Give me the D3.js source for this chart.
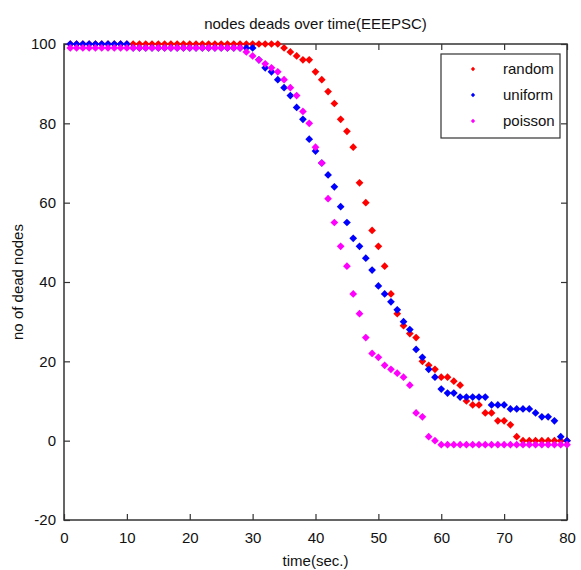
<!DOCTYPE html>
<html>
<head>
<meta charset="utf-8">
<script src="https://cdn.jsdelivr.net/npm/d3@7/dist/d3.min.js"></script>
<style>
  body { margin: 0; background: #fff; }
  svg { display: block; font-family: "Liberation Sans", Arial, sans-serif; }
</style>
</head>
<body>
<svg id="chart" width="581" height="570"></svg>
<script>
// time steps 1..80
const times = d3.range(1, 81);

// dead node counts
const randomVals = [
  100,100,100,100,100,100,100,100,100,100,
  100,100,100,100,100,100,100,100,100,100,
  100,100,100,100,100,100,100,100,100,100,
  100,100,100,100, 99, 98, 97, 96, 96, 93,
   91, 88, 85, 81, 78, 74, 65, 60, 53, 49,
   44, 37, 32, 29, 27, 26, 20, 19, 18, 16,
   16, 15, 14, 10,  9,  9,  7,  7,  5,  5,
    4,  1,  0,  0,  0,  0,  0,  0,  0,  0
];
const uniformVals = [
  100,100,100,100,100,100,100,100,100,100,
   99, 99, 99, 99, 99, 99, 99, 99, 99, 99,
   99, 99, 99, 99, 99, 99, 99, 99, 99, 99,
   96, 94, 93, 91, 89, 87, 84, 81, 76, 73,
   70, 67, 64, 59, 55, 51, 49, 46, 43, 39,
   37, 35, 33, 30, 28, 23, 21, 18, 16, 13,
   12, 12, 11, 11, 11, 11, 11,  9,  9,  9,
    8,  8,  8,  8,  7,  6,  6,  5,  1,  0
];
const poissonVals = [
   99, 99, 99, 99, 99, 99, 99, 99, 99, 99,
   99, 99, 99, 99, 99, 99, 99, 99, 99, 99,
   99, 99, 99, 99, 99, 99, 99, 99, 98, 97,
   96, 95, 94, 93, 91, 89, 87, 83, 80, 74,
   70, 61, 55, 49, 44, 37, 32, 26, 22, 21,
   19, 18, 17, 16, 14,  7,  6,  1,  0, -1,
   -1, -1, -1, -1, -1, -1, -1, -1, -1, -1,
   -1, -1, -1, -1, -1, -1, -1, -1, -1, -1
];

const seriesNames = ['random', 'uniform', 'poisson'];
const seriesColors = ['#ff0000', '#0000ff', '#ff00ff'];
const seriesValues = [randomVals, uniformVals, poissonVals];

const xTicks = [0, 10, 20, 30, 40, 50, 60, 70, 80];
const yTicks = [-20, 0, 20, 40, 60, 80, 100];

const svg = d3.select('#chart');
const margin = {top: 44, right: 14, bottom: 50, left: 64};
const width = 581 - margin.left - margin.right;
const height = 570 - margin.top - margin.bottom;

const g = svg.append('g')
    .attr('transform', `translate(${margin.left},${margin.top})`);

const xScale = d3.scaleLinear().domain([0, 80]).range([0, width]);
const yScale = d3.scaleLinear().domain([-20, 100]).range([height, 0]);

// plain hyphen minus like the original labels
const plain = d => String(d);

// axes with inward ticks, matlab style
const axisStyle = sel => {
    sel.selectAll('.domain').remove();
    sel.selectAll('line').attr('stroke', '#333').attr('stroke-width', 1.2);
    sel.selectAll('text').attr('font-size', 15).attr('fill', '#111');
};

g.append('g')
    .attr('transform', `translate(0,${height})`)
    .call(d3.axisBottom(xScale).tickValues(xTicks).tickFormat(plain).tickSizeInner(-6).tickSizeOuter(0).tickPadding(12))
    .call(axisStyle);
g.append('g')
    .call(d3.axisTop(xScale).tickValues(xTicks).tickSizeInner(-6).tickSizeOuter(0).tickFormat(''))
    .call(axisStyle);
g.append('g')
    .call(d3.axisLeft(yScale).tickValues(yTicks).tickFormat(plain).tickSizeInner(-6).tickSizeOuter(0).tickPadding(8))
    .call(axisStyle);
g.append('g')
    .attr('transform', `translate(${width},0)`)
    .call(d3.axisRight(yScale).tickValues(yTicks).tickSizeInner(-6).tickSizeOuter(0).tickFormat(''))
    .call(axisStyle);

// frame
g.append('rect')
    .attr('width', width).attr('height', height)
    .attr('fill', 'none').attr('stroke', '#333').attr('stroke-width', 1.5);

// points, drawn in series order
const marker = d3.symbol().type(d3.symbolDiamond2).size(38);
seriesValues.forEach((vals, i) => {
    g.append('g').selectAll('path')
        .data(times.map((t, j) => ({t, v: vals[j]})))
        .join('path')
        .attr('d', marker)
        .attr('transform', d => `translate(${xScale(d.t)},${yScale(d.v)})`)
        .attr('fill', seriesColors[i]);
});

// legend
const legend = g.append('g').attr('transform', `translate(${441 - margin.left},${54 - margin.top})`);
legend.append('rect')
    .attr('width', 119).attr('height', 84)
    .attr('fill', '#fff').attr('stroke', '#333').attr('stroke-width', 1.2);
const legendMarker = d3.symbol().type(d3.symbolDiamond2).size(12);
seriesNames.forEach((name, i) => {
    const y = 15 + i * 26;
    legend.append('path')
        .attr('d', legendMarker)
        .attr('transform', `translate(32,${y})`)
        .attr('fill', seriesColors[i]);
    legend.append('text')
        .attr('x', 62).attr('y', y + 5)
        .attr('font-size', 15).attr('fill', '#111')
        .text(name);
});

// title and axis labels
svg.append('text')
    .attr('x', margin.left + width / 2).attr('y', 29)
    .attr('text-anchor', 'middle').attr('font-size', 15).attr('fill', '#111')
    .text('nodes deads over time(EEEPSC)');

svg.append('text')
    .attr('x', margin.left + width / 2).attr('y', 566)
    .attr('text-anchor', 'middle').attr('font-size', 15).attr('fill', '#111')
    .text('time(sec.)');

svg.append('text')
    .attr('transform', `translate(23,${margin.top + height / 2}) rotate(-90)`)
    .attr('text-anchor', 'middle').attr('font-size', 15).attr('fill', '#111')
    .text('no of dead nodes');
</script>
</body>
</html>
